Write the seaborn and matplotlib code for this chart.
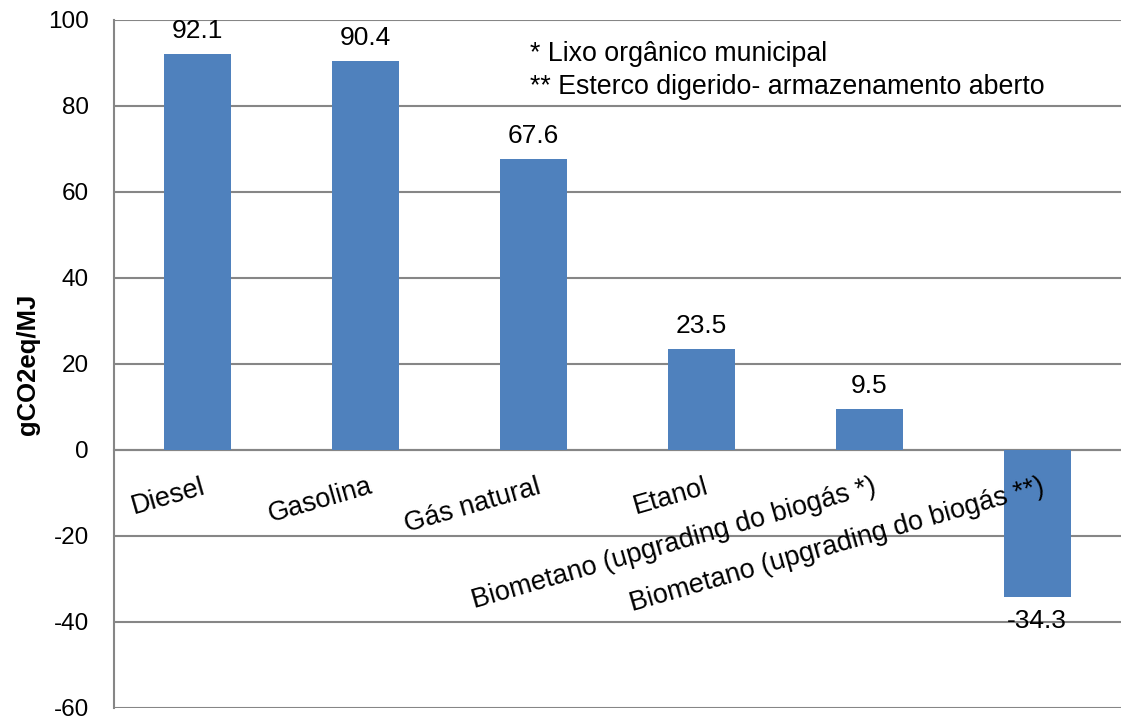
import numpy as np
import pandas as pd
import matplotlib
matplotlib.use("Agg")
import matplotlib.pyplot as plt
import seaborn as sns

categories = [
    "Diesel",
    "Gasolina",
    "Gás natural",
    "Etanol",
    "Biometano (upgrading do biogás *)",
    "Biometano (upgrading do biogás **)",
]
values = [92.1, 90.4, 67.6, 23.5, 9.5, -34.3]
value_labels = ["92.1", "90.4", "67.6", "23.5", "9.5", "-34.3"]
y_ticks = [-60, -40, -20, 0, 20, 40, 60, 80, 100]
footnotes = ["* Lixo orgânico municipal", "** Esterco digerido- armazenamento aberto"]
y_label = "gCO2eq/MJ"

sns.set_style("white")
plt.rcParams["font.family"] = ["Liberation Sans", "DejaVu Sans"]
plt.rcParams["text.color"] = "black"
plt.rcParams["xtick.color"] = "black"
plt.rcParams["ytick.color"] = "black"
plt.rcParams["axes.labelcolor"] = "black"

grey = "#868686"
bar_color = "#4F81BD"

df = pd.DataFrame({"fonte": categories, "valor": values})

fig = plt.figure(figsize=(11.21, 7.18), dpi=100)
ax = fig.add_axes([114 / 1121, 1 - 708 / 718, 1 - 114 / 1121, (708 - 20) / 718])

sns.barplot(data=df, x="fonte", y="valor", color=bar_color, width=0.4,
            saturation=1, linewidth=0, ax=ax, zorder=3)

ax.set_ylim(-60, 100)
ax.set_xlim(-0.5, len(categories) - 0.5)
ax.set_yticks(y_ticks)
ax.set_yticklabels([str(t) for t in y_ticks], fontsize=17.5)
ax.yaxis.grid(True, color=grey, linewidth=1.5, zorder=0)
ax.set_axisbelow(True)

# tick marks sit on the category boundaries; names are drawn below the zero line
ax.set_xticks(np.arange(-0.5, len(categories) + 0.5, 1.0))
ax.set_xticklabels([])
ax.tick_params(axis="x", which="major", length=6, width=1.2, color=grey,
               direction="out")
ax.tick_params(axis="y", length=6, width=1.2, color=grey, direction="out", pad=12)

for i, name in enumerate(categories):
    ax.annotate(name, xy=(i, 0), xycoords="data", xytext=(2, -17),
                textcoords="offset points", rotation=16, ha="right", va="top",
                rotation_mode="anchor", fontsize=19.5)

for side in ["top", "right"]:
    ax.spines[side].set_visible(False)
ax.spines["left"].set_color(grey)
ax.spines["left"].set_linewidth(1.5)
ax.spines["bottom"].set_color(grey)
ax.spines["bottom"].set_linewidth(1.5)
ax.spines["bottom"].set_position(("data", 0))

ax.set_xlabel("")
ax.set_ylabel(y_label, fontsize=18.5, fontweight="bold")
ax.yaxis.set_label_coords(-0.0735, 0.5)

ax.bar_label(ax.containers[0], labels=value_labels, padding=8, fontsize=19)

for line, yc in zip(footnotes, [0.95, 0.903]):
    ax.text(0.413, yc, line, transform=ax.transAxes, fontsize=19.3,
            va="center", ha="left")

fig.savefig("out.png", dpi=100)
